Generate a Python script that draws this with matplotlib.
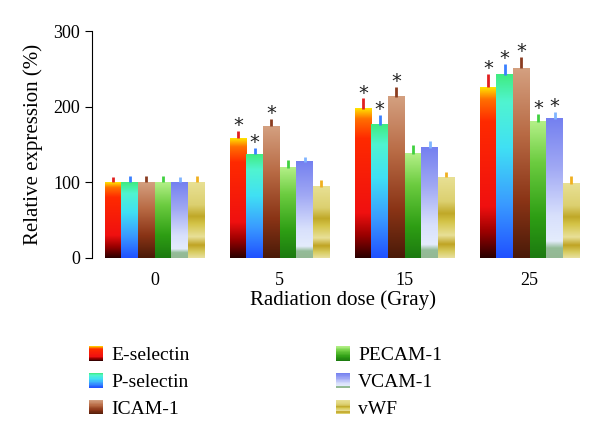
import numpy as np
import matplotlib
matplotlib.use("Agg")
from matplotlib import pyplot as plt
from matplotlib.colors import LinearSegmentedColormap
from matplotlib.patches import Rectangle
from matplotlib.legend_handler import HandlerBase

doses = ["0", "5", "15", "25"]
markers = ["E-selectin", "P-selectin", "ICAM-1", "PECAM-1", "VCAM-1", "vWF"]

e_sel = [100, 158, 197, 226]
p_sel = [100, 137, 176, 242]
icam = [100, 174, 213, 251]
pecam = [100, 119, 138, 180]
vcam = [100, 127, 146, 184]
vwf = [100, 94, 107, 98]

e_sel_err = [7, 10, 14, 17]
p_sel_err = [8, 9, 13, 14]
icam_err = [8, 10, 13, 15]
pecam_err = [8, 10, 11, 10]
vcam_err = [7, 7, 9, 9]
vwf_err = [9, 9, 7, 10]

# significance stars per marker, per dose
stars = [
    [0, 1, 1, 1],
    [0, 1, 1, 1],
    [0, 1, 1, 1],
    [0, 0, 0, 1],
    [0, 0, 0, 1],
    [0, 0, 0, 0],
]

values = [e_sel, p_sel, icam, pecam, vcam, vwf]
errors = [e_sel_err, p_sel_err, icam_err, pecam_err, vcam_err, vwf_err]

# gradients, listed bottom -> top
grads = [
    [(0.0, "#2a0000"), (0.15, "#9a0000"), (0.3, "#f01010"), (0.8, "#ff2a00"), (0.93, "#ff7000"), (1.0, "#ffe400")],
    [(0.0, "#2050ff"), (0.3, "#3a9cff"), (0.6, "#40e0f4"), (0.85, "#50f4d0"), (1.0, "#40ec80")],
    [(0.0, "#4a1a08"), (0.3, "#8a3416"), (0.65, "#b86a44"), (1.0, "#d4a080")],
    [(0.0, "#1c7a10"), (0.3, "#2e9e14"), (0.7, "#6ccc40"), (1.0, "#b4f088")],
    [(0.0, "#94b894"), (0.07, "#94bc98"), (0.12, "#e4ecfc"), (0.3, "#d8e0fc"), (0.65, "#a0a8f4"), (1.0, "#7480f0")],
    [(0.0, "#e8e0a0"), (0.08, "#d8cc60"), (0.17, "#c0a424"), (0.28, "#e8e098"), (0.45, "#d4c448"),
     (0.55, "#c0a828"), (0.7, "#dcd070"), (1.0, "#e8e094")],
]
err_colors = ["#e02020", "#3a80ff", "#8a3c20", "#40d040", "#80b4ff", "#f0b020"]
cmaps = [LinearSegmentedColormap.from_list("g%d" % i, g) for i, g in enumerate(grads)]

plt.rcParams["font.family"] = ["Liberation Serif", "DejaVu Serif"]

fig = plt.figure(figsize=(6, 4.41), dpi=100)
ax = fig.add_axes([0.153, 0.415, 0.838, 0.5147])

x = np.arange(len(doses))
w = 0.1336
grad_img = np.linspace(0, 1, 256).reshape(-1, 1)

for i in range(len(markers)):
    pos = x + (i - 2.5) * w
    bars = ax.bar(pos, values[i], width=w, color="none", edgecolor="none", zorder=2)
    for b in bars:
        ax.imshow(grad_img, cmap=cmaps[i], origin="lower", aspect="auto",
                  extent=[b.get_x(), b.get_x() + b.get_width(), 0, b.get_height()], zorder=2)
    tops = np.array(values[i]) + np.array(errors[i])
    ax.vlines(pos, values[i], tops, colors=err_colors[i], lw=2, zorder=3)
    for j in range(len(doses)):
        if stars[i][j]:
            ax.text(pos[j], tops[j] + 7, "*", ha="center", va="center", fontsize=14,
                    family="DejaVu Sans", color="#222222")

ax.set_xlim(-0.504, 3.52)
ax.set_ylim(0, 300)
ax.set_xticks(x)
ax.set_xticklabels(doses, fontsize=13)
ax.tick_params(axis="x", length=0, pad=10)
ax.set_yticks([0, 100, 200, 300])
ax.tick_params(axis="y", labelsize=13, length=5, direction="out")
for s in ["top", "right", "bottom"]:
    ax.spines[s].set_visible(False)
ax.set_ylabel("Relative expression (%)", fontsize=15, labelpad=7)
ax.set_xlabel("Radiation dose (Gray)", fontsize=15, labelpad=1)


class GradHandler(HandlerBase):
    def __init__(self, cmap):
        super().__init__()
        self.cmap = cmap

    def create_artists(self, legend, orig_handle, xdescent, ydescent, width, height, fontsize, trans):
        n = 24
        arts = []
        for k in range(n):
            r = Rectangle((-xdescent, -ydescent + height * k / n), width, height / n + 0.3,
                          facecolor=self.cmap((k + 0.5) / n), edgecolor="none", transform=trans)
            arts.append(r)
        return arts


handles = [Rectangle((0, 0), 1, 1) for _ in markers]
for col in range(2):
    idx = range(col * 3, col * 3 + 3)
    leg = fig.legend([handles[k] for k in idx], [markers[k] for k in idx],
                     handler_map={handles[k]: GradHandler(cmaps[k]) for k in idx},
                     loc="upper left", bbox_to_anchor=(0.135 + col * 0.412, 0.232),
                     frameon=False, fontsize=14, handlelength=0.72, handleheight=0.75,
                     handletextpad=0.42, labelspacing=0.46, borderaxespad=0)

fig.savefig("out.png", dpi=100)
